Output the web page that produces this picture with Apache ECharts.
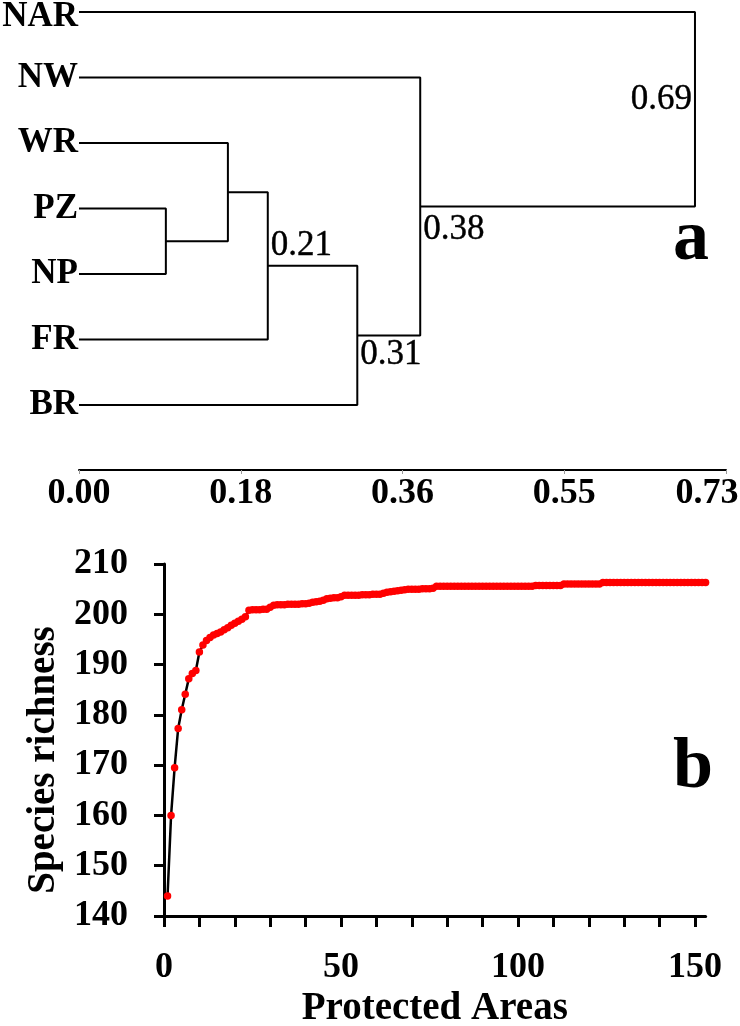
<!DOCTYPE html>
<html>
<head>
<meta charset="utf-8">
<script src="https://cdn.jsdelivr.net/npm/echarts@6/dist/echarts.min.js"></script>
<style>
html,body{margin:0;padding:0;background:#fff;}
#chart{width:740px;height:1026px;}
</style>
</head>
<body>
<div id="chart"></div>
<script>
// ---------- Panel a: dendrogram ----------
const leaves = ['NAR', 'NW', 'WR', 'PZ', 'NP', 'FR', 'BR'];
// each merge: [child A, child B, height]; leaves are 0..6, merge k creates node 7+k
const merges = [
  [3, 4, 0.098],
  [2, 7, 0.168],
  [8, 5, 0.213],
  [9, 6, 0.314],
  [1, 10, 0.385],
  [0, 11, 0.695]
];
const mergeLabels = ['', '', '0.21', '0.31', '0.38', '0.69'];
const distTickLabels = ['0.00', '0.18', '0.36', '0.55', '0.73'];

// ---------- Panel b: accumulation curve ----------
const richness = [
  144, 160, 169.5, 177.3, 181, 184.1, 187.2, 188.2, 188.8, 192.5,
  193.9, 194.8, 195.4, 195.9, 196.2, 196.5, 196.9, 197.3, 197.8, 198.2,
  198.6, 199.0, 199.5, 200.8, 200.9, 200.9, 200.9, 201.0, 201.0, 201.4,
  201.8, 201.9, 201.9, 201.9, 202.0, 202.0, 202.0, 202.0, 202.1, 202.1,
  202.2, 202.4, 202.5, 202.6, 202.8, 203.1, 203.2, 203.3, 203.3, 203.5,
  203.8, 203.8, 203.8, 203.8, 203.8, 203.9, 203.9, 203.9, 204.0, 204.0,
  204.0, 204.2, 204.4, 204.5, 204.6, 204.7, 204.8, 204.9, 205.0, 205.0,
  205.0, 205.0, 205.1, 205.1, 205.1, 205.2, 205.6, 205.6, 205.6, 205.6,
  205.6, 205.6, 205.6, 205.6, 205.6, 205.6, 205.6, 205.6, 205.6, 205.6,
  205.6, 205.6, 205.6, 205.6, 205.6, 205.6, 205.6, 205.6, 205.6, 205.6,
  205.6, 205.6, 205.6, 205.6, 205.7, 205.7, 205.7, 205.7, 205.7, 205.7,
  205.7, 205.7, 206.0, 206.0, 206.0, 206.0, 206.0, 206.0, 206.0, 206.0,
  206.0, 206.0, 206.0, 206.3, 206.3, 206.3, 206.3, 206.3, 206.3, 206.3,
  206.3, 206.3, 206.3, 206.3, 206.3, 206.3, 206.3, 206.3, 206.3, 206.3,
  206.3, 206.3, 206.3, 206.3, 206.3, 206.3, 206.3, 206.3, 206.3, 206.3,
  206.3, 206.3, 206.3
];
const richTicks = [140, 150, 160, 170, 180, 190, 200, 210];
const areaTicks = [0, 10, 20, 30, 40, 50, 60, 70, 80, 90, 100, 110, 120, 130, 140, 150];
const areaLabels = [0, 50, 100, 150];

// ---------- styles ----------
const F = '"Liberation Serif", "Times New Roman", serif';
const labelOffsets = [null, null, [3, -20, 'left'], [3, 19, 'left'], [3, 23, 'left'], [-3, -9, 'right']];
const leafFont = { fontFamily: F, fontWeight: 'bold', fontSize: 35, color: '#000' };

// build dendrogram geometry from the merge table
const pos = leaves.map((_, i) => ({ x: 0, y: i }));
const dendroSeries = [];
const nodeLabelData = [];
merges.forEach((m, k) => {
  const a = pos[m[0]], b = pos[m[1]], h = m[2];
  const ny = (a.y + b.y) / 2;
  pos.push({ x: h, y: ny });
  dendroSeries.push({
    type: 'line', xAxisIndex: 0, yAxisIndex: 0, symbol: 'none', silent: true,
    lineStyle: { color: '#000', width: 2 },
    data: [[a.x, a.y], [h, a.y], [h, b.y], [b.x, b.y]]
  });
  if (mergeLabels[k]) {
    const o = labelOffsets[k];
    nodeLabelData.push({
      value: [h, ny],
      label: {
        show: true, formatter: mergeLabels[k], position: 'inside',
        offset: [o[0], o[1]], align: o[2], verticalAlign: 'middle',
        fontFamily: F, fontSize: 35, color: '#000', opacity: 1,
        textBorderColor: '#000', textBorderWidth: 0.4
      }
    });
  }
});

const curveData = richness.map((v, i) => [i + 1, v]);

const chart = echarts.init(document.getElementById('chart'), null, { renderer: 'canvas' });
const option = {
  animation: false,
  backgroundColor: '#fff',
  title: [
    { text: 'a', left: 673, top: 204, padding: 0,
      textStyle: { fontFamily: F, fontSize: 72, fontWeight: 'bold', color: '#000', lineHeight: 72 } },
    { text: 'b', left: 673, top: 732, padding: 0,
      textStyle: { fontFamily: F, fontSize: 72, fontWeight: 'bold', color: '#000', lineHeight: 72 } }
  ],
  grid: [
    { left: 79, right: 14, top: 12, height: 393, outerBoundsMode: 'none', containLabel: false },
    { left: 164, right: 34.4, top: 564, height: 352, outerBoundsMode: 'none', containLabel: false }
  ],
  xAxis: [
    {
      gridIndex: 0, type: 'value', min: 0, max: 0.73, interval: 0.1825, offset: 65,
      axisLine: { show: true, onZero: false, lineStyle: { color: '#000', width: 2 } },
      axisTick: { show: true, length: 4, lineStyle: { color: '#999', width: 1 } },
      splitLine: { show: false },
      axisLabel: {
        margin: 6, fontFamily: F, fontWeight: 'bold', fontSize: 36, color: '#000',
        formatter: function (v) {
          const i = Math.round(v / 0.1825);
          const t = distTickLabels[i] || '';
          return i === distTickLabels.length - 1 ? '{last|' + t + '}' : t;
        },
        rich: { last: { fontFamily: F, fontWeight: 'bold', fontSize: 36, color: '#000', padding: [0, 38, 0, 0] } }
      }
    },
    {
      gridIndex: 1, type: 'value', min: 0, max: 153,
      name: 'Protected Areas', nameLocation: 'middle', nameGap: 73,
      nameTextStyle: { fontFamily: F, fontWeight: 'bold', fontSize: 39, color: '#000' },
      axisLine: { show: true, onZero: false, lineStyle: { color: '#000', width: 3 } },
      axisTick: { show: true, customValues: areaTicks, length: 11, lineStyle: { color: '#000', width: 3 } },
      splitLine: { show: false },
      axisLabel: { customValues: areaLabels, margin: 34, fontFamily: F, fontWeight: 'bold', fontSize: 36, color: '#000' }
    }
  ],
  yAxis: [
    {
      gridIndex: 0, type: 'value', min: 0, max: 6, interval: 1, inverse: true,
      axisLine: { show: false }, axisTick: { show: false }, splitLine: { show: false },
      axisLabel: Object.assign({
        margin: 1,
        formatter: function (v) {
          const i = Math.round(v);
          const t = leaves[i] || '';
          return i === 0 ? '{first|' + t + '}' : t;
        },
        rich: { first: Object.assign({ padding: [10, 0, 0, 0] }, leafFont) }
      }, leafFont)
    },
    {
      gridIndex: 1, type: 'value', min: 140, max: 210,
      name: 'Species richness', nameLocation: 'middle', nameGap: 99,
      nameTextStyle: { fontFamily: F, fontWeight: 'bold', fontSize: 39, color: '#000', padding: [0, 40, 0, 0] },
      axisLine: { show: true, onZero: false, lineStyle: { color: '#000', width: 3 } },
      axisTick: { show: true, customValues: richTicks, length: 10, lineStyle: { color: '#000', width: 3 } },
      splitLine: { show: false },
      axisLabel: { customValues: richTicks, margin: 36, fontFamily: F, fontWeight: 'bold', fontSize: 36, color: '#000' }
    }
  ],
  series: dendroSeries.concat([
    {
      type: 'scatter', xAxisIndex: 0, yAxisIndex: 0, symbolSize: 1, silent: true,
      itemStyle: { color: 'rgba(0,0,0,0)' },
      data: nodeLabelData
    },
    {
      type: 'line', xAxisIndex: 1, yAxisIndex: 1, symbol: 'circle', symbolSize: 7.5,
      showAllSymbol: true, silent: true,
      lineStyle: { color: '#000', width: 2.5 },
      itemStyle: { color: '#ff0000', borderWidth: 0 },
      data: curveData
    }
  ])
};
chart.setOption(option);
</script>
</body>
</html>
